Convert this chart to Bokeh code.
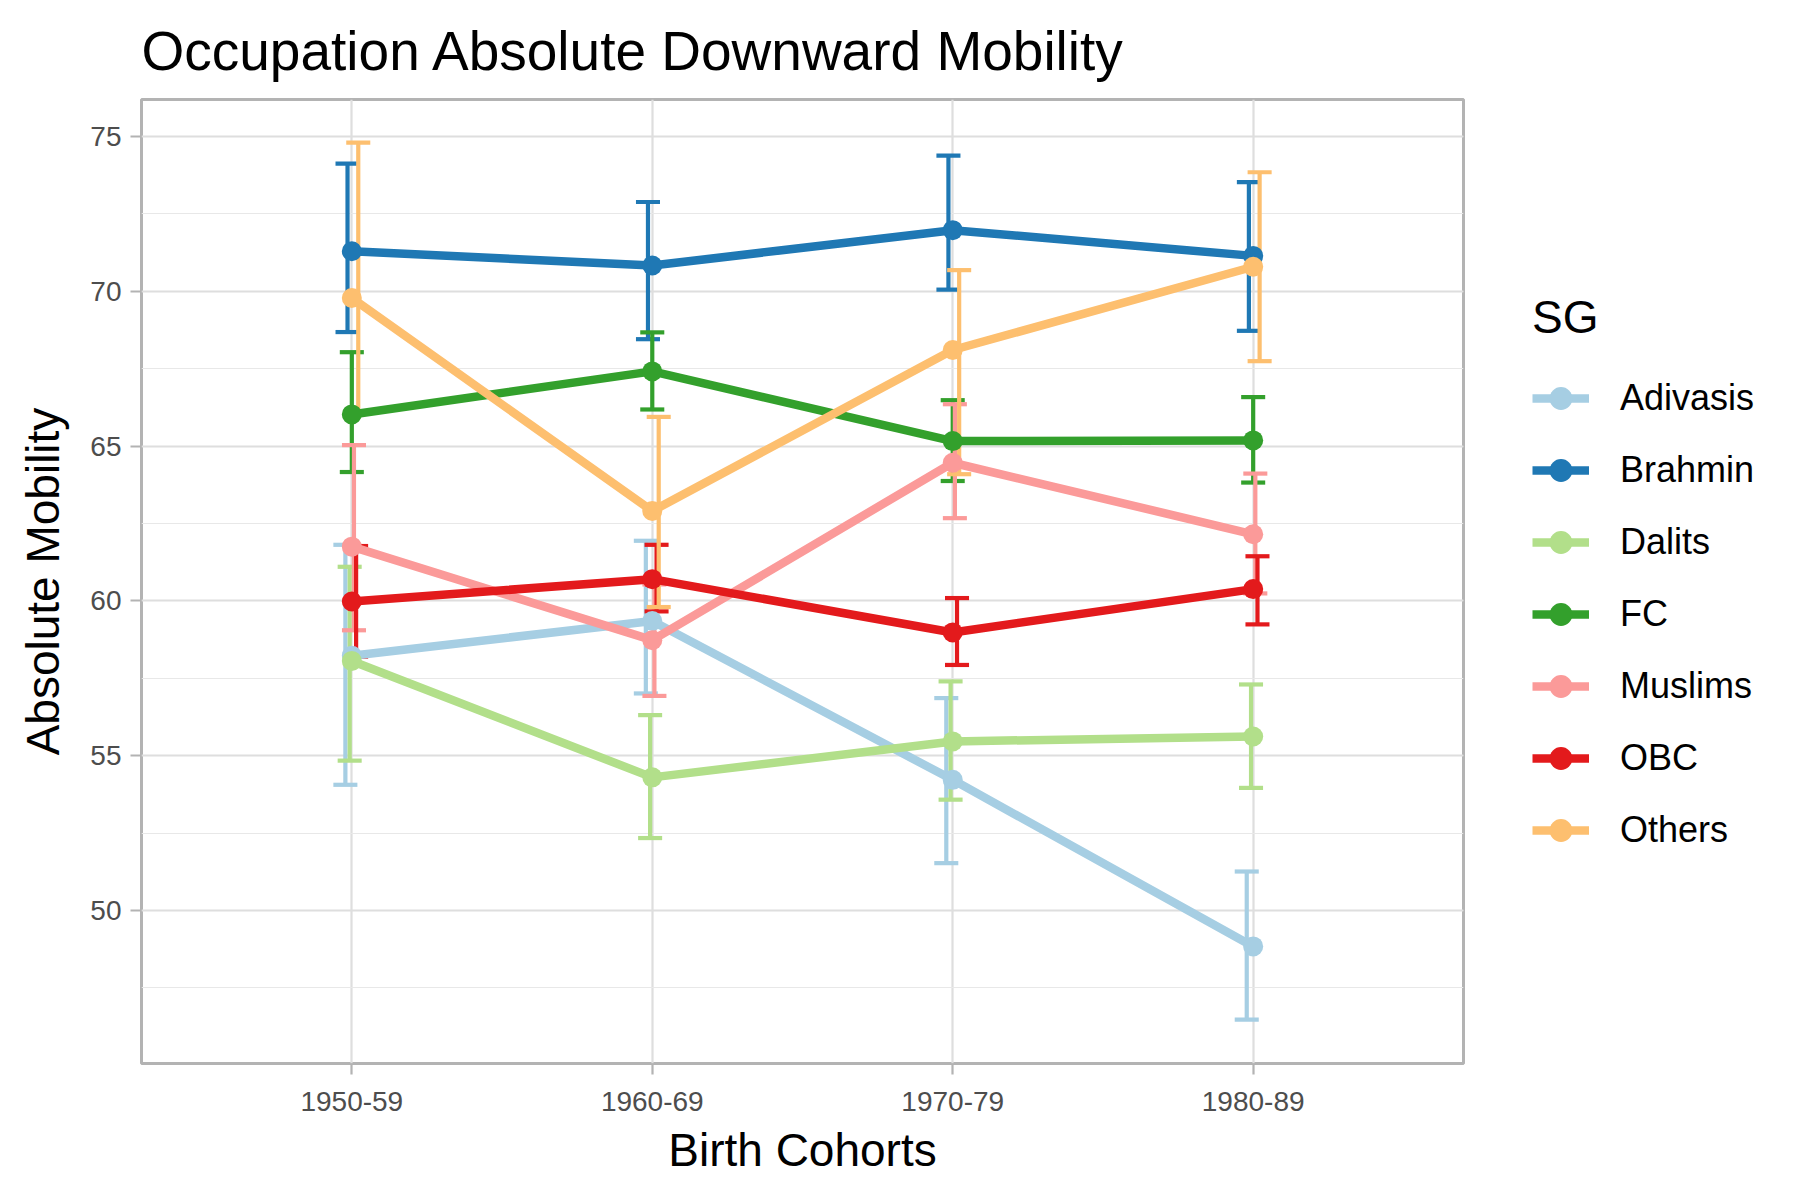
from bokeh.plotting import figure
from bokeh.layouts import row
from bokeh.models import (ColumnDataSource, FactorRange, Range1d, SingleIntervalTicker,
                          Legend, LegendItem)
from bokeh.transform import dodge
from bokeh.embed import file_html
from bokeh.resources import INLINE

# ---------------- data ----------------
cohorts = ["1950-59", "1960-69", "1970-79", "1980-89"]
groups = ["Adivasis", "Brahmin", "Dalits", "FC", "Muslims", "OBC", "Others"]
colors = ["#A6CEE3", "#1F78B4", "#B2DF8A", "#33A02C", "#FB9A99", "#E31A1C", "#FDBF6F"]

adivasis_mean = [58.23, 59.35, 54.22, 48.84]
adivasis_low = [54.06, 57.01, 51.53, 46.48]
adivasis_high = [61.81, 61.94, 56.86, 51.26]

brahmin_mean = [71.29, 70.83, 71.97, 71.14]
brahmin_low = [68.68, 68.45, 70.05, 68.72]
brahmin_high = [74.12, 72.88, 74.38, 73.52]

dalits_mean = [58.06, 54.30, 55.46, 55.62]
dalits_low = [54.84, 52.34, 53.58, 53.96]
dalits_high = [61.10, 56.31, 57.40, 57.30]

fc_mean = [66.02, 67.41, 65.16, 65.18]
fc_low = [64.16, 66.18, 63.87, 63.82]
fc_high = [68.03, 68.67, 66.48, 66.58]

muslims_mean = [61.75, 58.73, 64.46, 62.15]
muslims_low = [59.05, 56.93, 62.67, 60.24]
muslims_high = [65.03, 60.53, 66.35, 64.11]

obc_mean = [59.98, 60.70, 58.98, 60.38]
obc_low = [58.20, 59.66, 57.93, 59.24]
obc_high = [61.77, 61.81, 60.09, 61.44]

others_mean = [69.78, 62.90, 68.10, 70.79]
others_low = [66.10, 59.80, 64.09, 67.74]
others_high = [74.80, 65.94, 70.68, 73.84]

series = {
    "Adivasis": (adivasis_mean, adivasis_low, adivasis_high),
    "Brahmin": (brahmin_mean, brahmin_low, brahmin_high),
    "Dalits": (dalits_mean, dalits_low, dalits_high),
    "FC": (fc_mean, fc_low, fc_high),
    "Muslims": (muslims_mean, muslims_low, muslims_high),
    "OBC": (obc_mean, obc_low, obc_high),
    "Others": (others_mean, others_low, others_high),
}

FONT = "Liberation Sans"
LINE_W = 8.5
PT_SIZE = 20

p = figure(width=1465, height=1184, output_backend="svg", toolbar_location=None,
           x_range=FactorRange(factors=cohorts, range_padding=0.2, range_padding_units="absolute"),
           y_range=Range1d(45.06, 76.19),
           min_border_left=141, min_border_top=98, min_border_right=2, min_border_bottom=121,
           title="Occupation Absolute Downward Mobility")

p.title.text_font = FONT
p.title.text_font_size = "55px"
p.title.text_font_style = "normal"
p.title.text_color = "black"
p.title.align = "left"
p.title.standoff = 35

p.outline_line_color = "#B3B3B3"
p.outline_line_width = 3
p.background_fill_color = "white"
p.border_fill_color = "white"

p.yaxis.ticker = SingleIntervalTicker(interval=5, num_minor_ticks=2)
p.ygrid.grid_line_color = "#DEDEDE"
p.ygrid.grid_line_width = 2.2
p.ygrid.minor_grid_line_color = "#E8E8E8"
p.ygrid.minor_grid_line_width = 1.2
p.xgrid.grid_line_color = "#DEDEDE"
p.xgrid.grid_line_width = 2.2

for ax in (p.xaxis, p.yaxis):
    ax.axis_line_color = None
    ax.major_tick_line_color = "#B3B3B3"
    ax.major_tick_line_width = 2.2
    ax.major_tick_in = 0
    ax.major_tick_out = 11
    ax.minor_tick_line_color = None
    ax.major_label_text_font = FONT
    ax.major_label_text_font_size = "28px"
    ax.major_label_text_color = "#4D4D4D"
    ax.axis_label_text_font = FONT
    ax.axis_label_text_font_size = "46px"
    ax.axis_label_text_font_style = "normal"
    ax.axis_label_text_color = "black"

p.xaxis.axis_label = "Birth Cohorts"
p.yaxis.axis_label = "Absolute Mobility"
p.xaxis.major_label_standoff = 17
p.yaxis.major_label_standoff = 9
p.xaxis.axis_label_standoff = 10
p.yaxis.axis_label_standoff = 18

dodge_width = 0.05
cap_half = 0.04
n = len(groups)

sources = {}
for i, g in enumerate(groups):
    m, lo, hi = series[g]
    sources[g] = ColumnDataSource(dict(cohort=cohorts, mean=m, low=lo, high=hi))

# error bars (bottom layer)
for i, g in enumerate(groups):
    off = (i - (n - 1) / 2) * dodge_width / n
    src = sources[g]
    c = colors[i]
    p.segment(x0=dodge("cohort", off, range=p.x_range), y0="low",
              x1=dodge("cohort", off, range=p.x_range), y1="high",
              source=src, line_color=c, line_width=4.2)
    for fld in ("low", "high"):
        p.segment(x0=dodge("cohort", off - cap_half, range=p.x_range), y0=fld,
                  x1=dodge("cohort", off + cap_half, range=p.x_range), y1=fld,
                  source=src, line_color=c, line_width=4.2)

for i, g in enumerate(groups):
    p.line("cohort", "mean", source=sources[g], line_color=colors[i],
           line_width=LINE_W, line_join="round")
for i, g in enumerate(groups):
    p.scatter("cohort", "mean", source=sources[g], marker="circle",
              size=PT_SIZE, fill_color=colors[i], line_color=colors[i], line_width=0)

# ---------------- legend panel (separate canvas so it is not clipped) ----------------
lg = figure(width=319, height=1184, output_backend="svg", toolbar_location=None,
            x_range=Range1d(0, 1), y_range=Range1d(0, 1),
            x_axis_location=None, y_axis_location=None,
            min_border_left=0, min_border_right=0, min_border_top=0, min_border_bottom=0)
lg.grid.visible = False
lg.outline_line_color = None
lg.background_fill_color = "white"
lg.border_fill_color = "white"

items = []
for i, g in enumerate(groups):
    # keys only: the single point lies outside this panel's ranges
    lr = lg.line(x=[-5, -4], y=[-5, -5], line_color=colors[i], line_width=LINE_W)
    sr = lg.scatter(x=[-5], y=[-5], marker="circle", size=PT_SIZE,
                    fill_color=colors[i], line_color=colors[i], line_width=0)
    items.append(LegendItem(label=g, renderers=[lr, sr]))

legend = Legend(items=items, location=(67, 197), orientation="vertical",
                title="SG", title_text_font=FONT, title_text_font_size="46px",
                title_text_font_style="normal", title_text_color="black",
                title_standoff=18,
                label_text_font=FONT, label_text_font_size="36px", label_text_color="black",
                glyph_width=57, glyph_height=72, label_height=72, label_standoff=31,
                spacing=0, padding=0, margin=0,
                border_line_color=None, background_fill_alpha=0)
lg.add_layout(legend)

layout = row(p, lg, spacing=0)
open("out.html", "w").write(file_html(layout, INLINE))
